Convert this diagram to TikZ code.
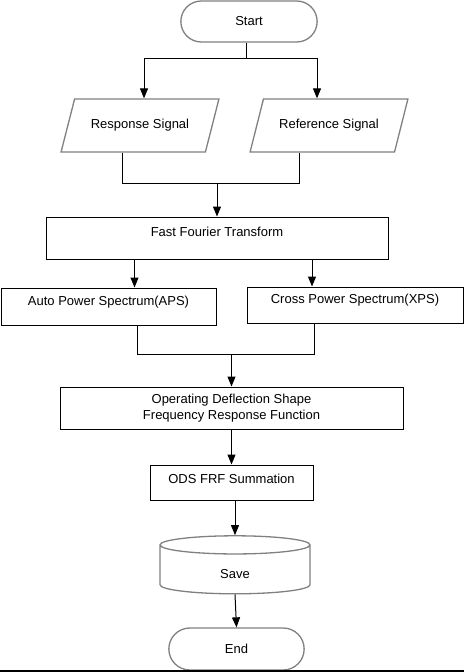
\documentclass[tikz,border=0pt]{standalone}
\usepackage{fontspec}
\setmainfont{Liberation Sans}
\usepackage{tikz}
\usetikzlibrary{shapes,arrows.meta,positioning,calc}

\begin{document}
\begin{tikzpicture}[
    x=1pt, y=-1pt,
    font=\fontsize{13}{16}\selectfont,
    terminal/.style={rounded rectangle, draw=gray, line width=1.3pt, minimum width=143pt, minimum height=41pt},
    io/.style={trapezium, trapezium left angle=60, trapezium right angle=120, trapezium stretches=true, draw=gray, line width=1.3pt, minimum width=158pt, minimum height=53pt},
    process/.style={rectangle, draw, line width=1pt, inner sep=0pt},
    store/.style={cylinder, draw=gray, line width=1.3pt, shape border rotate=90, aspect=0.5, minimum width=150pt, minimum height=58pt},
    line/.style={draw, line width=1pt, -{Triangle[length=10pt, width=8pt]}}
]
    \useasboundingbox (0,0) rectangle (464,672);

    \node [terminal] (start) at (249,21.5) {Start};
    \node [io] (resp) at (140,125.5) {Response Signal};
    \node [io] (ref) at (329,125.5) {Reference Signal};
    \node [process, minimum width=342pt, minimum height=42pt, text depth=12pt] (fft) at (217,238) {Fast Fourier Transform};
    \node [process, minimum width=215pt, minimum height=37pt, text depth=12pt] (aps) at (108.5,306.5) {Auto Power Spectrum(APS)};
    \node [process, minimum width=216pt, minimum height=36pt, text depth=13pt] (xps) at (355,305) {Cross Power Spectrum(XPS)};
    \node [process, minimum width=343pt, minimum height=42pt, align=center] (ods) at (231.5,408) {Operating Deflection Shape\\Frequency Response Function};
    \node [process, minimum width=163pt, minimum height=35pt, text depth=8pt] (sum) at (231.5,482.5) {ODS FRF Summation};
    \node [store, text height=15pt] (save) at (235,571) {Save};
    \node [terminal, minimum width=142pt, minimum height=42pt] (end) at (236.5,649) {End};

    % split after start
    \coordinate (split) at ($(start.south)+(-3,16)$);
    \coordinate (respin) at ($(resp.north)+(4,0)$);
    \coordinate (refin) at ($(ref.north)+(-12,0)$);
    \draw (start.south -| split) -- (split);
    \draw [line] (split) -| (respin);
    \draw [line] (split) -| (refin);

    % merge into fft
    \coordinate (merge1) at ($(fft.north)+(0,-33)$);
    \draw ($(resp.south)+(-18,0)$) |- (merge1) -| ($(ref.south)+(-30,0)$);
    \draw [line] (merge1) -- (fft.north);

    \coordinate (apsin) at ($(aps.north)+(26,0)$);
    \coordinate (xpsin) at ($(xps.north)+(-43,0)$);
    \draw [line] (fft.south -| apsin) -- (apsin);
    \draw [line] (fft.south -| xpsin) -- (xpsin);

    % merge into ods
    \coordinate (merge2) at ($(ods.north)+(0,-32)$);
    \draw ($(aps.south)+(29,0)$) |- (merge2) -| ($(xps.south)+(-41,0)$);
    \draw [line] (merge2) -- (ods.north);

    \draw [line] (ods) -- (sum);
    \draw [line] (sum.south -| save.north) -- (save.north);
    \draw [line] (save.south) -- (end.north);

    \draw [line width=1.5pt] (0,671) -- (464,671);
\end{tikzpicture}
\end{document}
